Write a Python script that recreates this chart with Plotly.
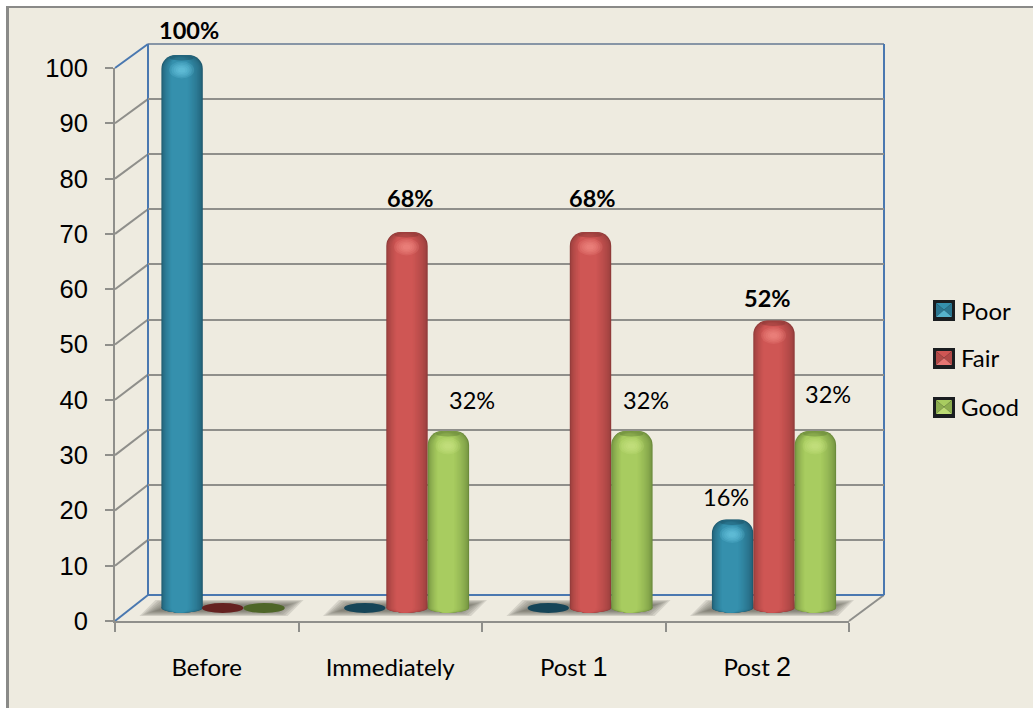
import plotly.graph_objects as go

# Chart data
categories = ["Before", "Immediately", "Post 1", "Post 2"]
tick_labels = [
    "Before",
    "Immediately",
    "Post <span style='font-size:27px;font-family:Liberation Sans'>1</span>",
    "Post <span style='font-size:27px;font-family:Liberation Sans'>2</span>",
]
poor = [100, 0, 0, 16]
fair = [0, 68, 68, 52]
good = [0, 32, 32, 32]
series_names = ["Poor", "Fair", "Good"]
y_ticks = list(range(0, 101, 10))

# Colour ramps for each cylinder: rim, core, flat disc, highlight
RAMPS = [
    ("#1b5064", "#3590ad", "#164558", "#7fdcf0"),
    ("#853634", "#cf5654", "#652220", "#ff9a98"),
    ("#627f36", "#a8cc60", "#4e6628", "#d4ee8c"),
]

W, H = 1033, 708
WALL_BG = "#eeebe0"
GRAY = "#8f8f8b"
BLUE = "#4a78b0"
TEXT_FONT = "Lato"
NUM_FONT = "Liberation Sans"
LAYERS = 14


def px(x):
    return x / W


def py(y):
    return 1 - y / H


def hex_mix(a, b, t):
    ca = [int(a[i:i + 2], 16) for i in (1, 3, 5)]
    cb = [int(b[i:i + 2], 16) for i in (1, 3, 5)]
    return "#%02x%02x%02x" % tuple(round(u + (v - u) * t) for u, v in zip(ca, cb))


# Pixel geometry of the 3D box
FX0, FX1 = 115, 849      # front edge of the floor
BX0, BX1 = 148, 884      # back edge of the floor
FY0, FY100 = 621, 68     # front axis, value 0 and 100
BY0, BY100 = 595, 44     # back wall, value 0 and 100
CY0, CY100 = 608, 55     # cylinder plane, value 0 and 100
CX0, CX1 = 131.75, 865.75

c_unit = (CY0 - CY100) / 100
x_unit = (CX1 - CX0) / len(categories)
C_PAD = 2  # spare value range on the cylinder axis so the rounded feet are not clipped


def front_y(v):
    return FY0 + (FY100 - FY0) * v / 100


def back_y(v):
    return BY0 + (BY100 - BY0) * v / 100


shapes = []
# Panel, with a border on its left and top sides only
shapes.append(dict(type="rect", xref="paper", yref="paper", layer="below",
                   x0=px(7.5), x1=1, y0=0, y1=py(7),
                   fillcolor=WALL_BG, line=dict(width=0)))
shapes.append(dict(type="line", xref="paper", yref="paper", layer="below",
                   x0=px(7.5), x1=px(7.5), y0=0, y1=py(6), line=dict(color="#8a8a88", width=3)))
shapes.append(dict(type="line", xref="paper", yref="paper", layer="below",
                   x0=px(6), x1=1, y0=py(7), y1=py(7), line=dict(color="#8a8a88", width=2)))

# Soft floor shadows under each group of cylinders
group_px = [CX0 + (CX1 - CX0) * (i + 0.5) / len(categories) for i in range(len(categories))]
for gx in group_px:
    for k in range(8):
        ins = k * 2.4
        ins_y = k * 0.8
        xa, xb = gx - 82 + ins, gx + 66 - ins
        ya, yb = 600 + ins_y, 616 - ins_y
        path = (f"M{px(xa + 14)},{py(ya)} L{px(xb + 14)},{py(ya)} "
                f"L{px(xb - 2)},{py(yb)} L{px(xa - 2)},{py(yb)} Z")
        shapes.append(dict(type="path", path=path, xref="paper", yref="paper", layer="below",
                           fillcolor="rgba(105,105,95,0.19)", line=dict(width=0)))

# Box edges: the top and bottom return lines are blue, the rest gray
for v in y_ticks:
    color = BLUE if v in (0, 100) else GRAY
    shapes.append(dict(type="line", xref="paper", yref="paper", layer="below",
                       x0=px(FX0), y0=py(front_y(v)), x1=px(BX0), y1=py(back_y(v)),
                       line=dict(color=color, width=2)))
shapes.append(dict(type="line", xref="paper", yref="paper", layer="below",
                   x0=px(FX1), y0=py(FY0), x1=px(BX1), y1=py(BY0),
                   line=dict(color=GRAY, width=2)))
shapes.append(dict(type="line", xref="paper", yref="paper", layer="below",
                   x0=px(BX0), y0=py(BY100), x1=px(BX1), y1=py(BY100),
                   line=dict(color="#8795a6", width=2)))
for xv in (BX0, BX1):
    shapes.append(dict(type="line", xref="paper", yref="paper", layer="below",
                       x0=px(xv), y0=py(BY0), x1=px(xv), y1=py(BY100),
                       line=dict(color=BLUE, width=2)))
shapes.append(dict(type="line", xref="paper", yref="paper", layer="below",
                   x0=px(BX0), y0=py(BY0), x1=px(BX1), y1=py(BY0),
                   line=dict(color=BLUE, width=2)))

# Cylinders: nested bars from the dark rim to the light core
fig = go.Figure()
bar_w = 41.4 / x_unit
offsets = [-1.5 * bar_w, -0.5 * bar_w, 0.5 * bar_w]
all_series = [poor, fair, good]

for s, (values, name, ramp) in enumerate(zip(all_series, series_names, RAMPS)):
    rim, core, disc, glow = ramp
    for layer in range(LAYERS):
        t = layer / (LAYERS - 1)
        shade = hex_mix(hex_mix(rim, core, 0.15), core, t ** 0.55)
        left = 10 * t / x_unit
        right = 15 * t / x_unit
        inset = 0.55 * t
        width = bar_w - left - right
        ys = [v - inset if v > 0 else 0 for v in values]
        fig.add_trace(go.Bar(
            x=categories, y=ys, xaxis="x3", yaxis="y3", name=name,
            width=width, offset=offsets[s] + left,
            marker=dict(color=shade, line=dict(width=0),
                        cornerradius=min(14, width * x_unit * 0.48)),
            showlegend=False, hoverinfo="skip",
        ))
        # rounded foot of the cylinder, tucked under the bar
        for c, v in enumerate(values):
            if v > 0:
                shapes.append(dict(type="circle", xref="x3", yref="y3", layer="below",
                                   x0=c + offsets[s] + left, x1=c + offsets[s] + bar_w - right,
                                   y0=-0.82, y1=0.82, fillcolor=shade, line=dict(width=0)))
    for c, v in enumerate(values):
        if v > 0:
            cx = c + offsets[s] + bar_w * 0.49
            # darker cap on the crown of the cylinder
            shapes.append(dict(type="circle", xref="x3", yref="y3", layer="above",
                               x0=cx - 12 / x_unit, x1=cx + 12 / x_unit,
                               y0=v - 5.5 / c_unit, y1=v - 0.5 / c_unit,
                               fillcolor=rim, opacity=0.45, line=dict(width=0)))
            # soft highlight below the cap
            for k in range(5):
                rx = (12.5 - 2.2 * k) / x_unit
                ry = (8.5 - 1.5 * k) / c_unit
                yc = v - 15 / c_unit
                shapes.append(dict(type="circle", xref="x3", yref="y3", layer="above",
                                   x0=cx - rx, x1=cx + rx, y0=yc - ry, y1=yc + ry,
                                   fillcolor=glow, opacity=0.16, line=dict(width=0)))
        else:
            # a zero value shows as a flat disc on the floor
            shapes.append(dict(type="circle", xref="x3", yref="y3", layer="above",
                               x0=c + offsets[s] - 0.02 * bar_w, x1=c + offsets[s] + 0.98 * bar_w,
                               y0=-0.9, y1=0.9, fillcolor=disc, line=dict(width=0)))

# Value labels, the largest value of each category in bold
label_shift = {
    (0, 0): (7, 25), (1, 1): (3, 34), (1, 2): (2, 34), (1, 3): (-7, 22),
    (2, 1): (24, 31), (2, 2): (14, 31), (2, 3): (13, 37),
    (0, 3): (-7, 23),
}
annotations = []
for s, values in enumerate(all_series):
    for c, v in enumerate(values):
        if v > 0:
            top = max(series[c] for series in all_series)
            dx, dy = label_shift[(s, c)]
            annotations.append(dict(
                x=c + offsets[s] + bar_w / 2, y=v, xref="x3", yref="y3",
                xanchor="center", yanchor="middle", xshift=dx, yshift=dy, showarrow=False,
                text=f"<b>{v}%</b>" if v == top else f"{v}%",
                font=dict(family=TEXT_FONT, size=23.5, color="#000000"),
            ))

# Legend built from bevelled swatches
legend_tops = [300, 348, 397]
for name, ramp, ty in zip(series_names, RAMPS, legend_tops):
    rim, core, disc, glow = ramp
    x0, x1 = 933, 955
    y0, y1 = ty, ty + 21
    shapes.append(dict(type="rect", xref="paper", yref="paper",
                       x0=px(x0), x1=px(x1), y0=py(y1), y1=py(y0),
                       fillcolor="#1a1d20", line=dict(width=0), layer="above"))
    a0, a1, b0, b1 = x0 + 3, x1 - 3, y0 + 3, y1 - 4
    mx, my = (a0 + a1) / 2, (b0 + b1) / 2
    tris = [
        ([(a0, b0), (a1, b0), (mx, my)], core),
        ([(a0, b0), (a0, b1), (mx, my)], hex_mix(rim, core, 0.6)),
        ([(a1, b0), (a1, b1), (mx, my)], hex_mix(rim, core, 0.6)),
        ([(a0, b1), (a1, b1), (mx, my)], hex_mix(core, glow, 0.45)),
    ]
    for pts, col in tris:
        path = "M" + " L".join(f"{px(p)},{py(q)}" for p, q in pts) + " Z"
        shapes.append(dict(type="path", path=path, xref="paper", yref="paper", layer="above",
                           fillcolor=col, line=dict(width=0)))
    annotations.append(dict(x=px(958.5), y=py(ty + 10), xref="paper", yref="paper",
                            xanchor="left", yanchor="middle", showarrow=False, text=name,
                            font=dict(family=TEXT_FONT, size=24, color="#000000")))

fig.update_layout(
    width=W, height=H, autosize=False,
    margin=dict(l=0, r=0, t=0, b=0, pad=0, autoexpand=False),
    paper_bgcolor="#ffffff", plot_bgcolor="rgba(0,0,0,0)",
    barmode="overlay", showlegend=False,
    shapes=shapes, annotations=annotations,
    # front axis with category labels and tick marks on the section boundaries
    xaxis=dict(domain=[px(FX0), px(FX1)], range=[-0.5, 3.5], type="category",
               categoryorder="array", categoryarray=categories,
               tickmode="array", tickvals=categories, ticktext=tick_labels,
               tickson="boundaries", ticks="outside", ticklen=9, tickwidth=2, tickcolor=GRAY,
               showline=True, linecolor=GRAY, linewidth=2, showgrid=False, zeroline=False,
               anchor="y", ticklabelstandoff=24,
               tickfont=dict(family=TEXT_FONT, size=24, color="#000000")),
    yaxis=dict(domain=[py(FY0), py(FY100)], range=[0, 100], tickmode="array", tickvals=y_ticks,
               ticks="outside", ticklen=8, tickwidth=2, tickcolor=GRAY,
               showline=True, linecolor=GRAY, linewidth=2, showgrid=False, zeroline=False,
               anchor="x", ticklabelstandoff=12,
               tickfont=dict(family=NUM_FONT, size=25.5, color="#000000")),
    # back wall with its gridlines
    xaxis2=dict(domain=[px(BX0), px(BX1)], range=[0, 1], visible=False, anchor="y2"),
    yaxis2=dict(domain=[py(BY0), py(BY100)], range=[0, 100], tickmode="array", tickvals=y_ticks[1:-1],
                showgrid=True, gridcolor=GRAY, gridwidth=2, zeroline=False, showticklabels=False,
                ticks="", anchor="x2", showline=False),
    # plane of the cylinders
    xaxis3=dict(domain=[px(CX0), px(CX1)], range=[-0.5, 3.5], type="category",
                categoryorder="array", categoryarray=categories,
                visible=False, anchor="y3"),
    yaxis3=dict(domain=[py(CY0 + C_PAD * c_unit), py(CY100 - C_PAD * c_unit)],
                range=[-C_PAD, 100 + C_PAD], visible=False, anchor="x3"),
)

# Empty traces bring the front axes and the back wall into the figure
fig.add_trace(go.Scatter(x=categories, y=[None] * 4, xaxis="x", yaxis="y",
                         showlegend=False, hoverinfo="skip"))
fig.add_trace(go.Scatter(x=[0, 1], y=[None, None], xaxis="x2", yaxis="y2",
                         showlegend=False, hoverinfo="skip"))

fig.write_html("out.html")
